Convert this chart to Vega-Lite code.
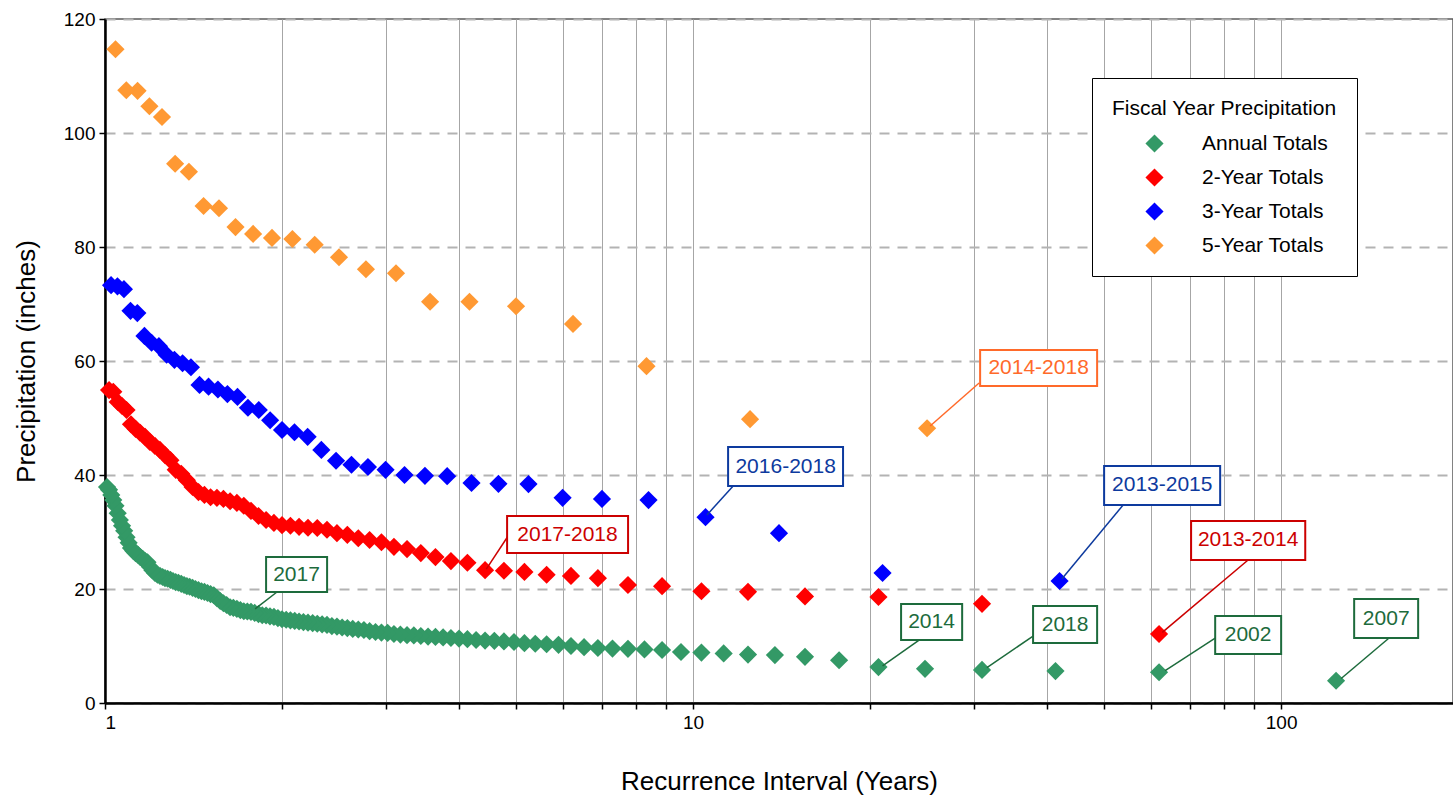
{
"$schema":"https://vega.github.io/schema/vega-lite/v6.json",
"width":1348,"height":684,
"autosize":{"type":"none"},
"padding":{"left":105,"top":19,"right":0,"bottom":94},
"config":{
 "font":"Liberation Sans",
 "view":{"stroke":"#595959","strokeWidth":1.5},
 "axis":{"labelFontSize":19,"labelColor":"#000","titleFontSize":26,"titleFontWeight":"normal","titleColor":"#000","domainColor":"#000","domainWidth":2.5,"tickColor":"#000","tickWidth":1.5,"tickSize":6,"labelPadding":4}
},
"datasets":{
"pts":[
{"series":"Annual Totals","interval":124,"precip":3.9},
{"series":"Annual Totals","interval":62,"precip":5.4},
{"series":"Annual Totals","interval":41.333,"precip":5.6},
{"series":"Annual Totals","interval":31,"precip":5.8},
{"series":"Annual Totals","interval":24.8,"precip":6.0},
{"series":"Annual Totals","interval":20.667,"precip":6.3},
{"series":"Annual Totals","interval":17.714,"precip":7.5},
{"series":"Annual Totals","interval":15.5,"precip":8.1},
{"series":"Annual Totals","interval":13.778,"precip":8.4},
{"series":"Annual Totals","interval":12.4,"precip":8.5},
{"series":"Annual Totals","interval":11.273,"precip":8.7},
{"series":"Annual Totals","interval":10.333,"precip":8.85},
{"series":"Annual Totals","interval":9.538,"precip":8.95},
{"series":"Annual Totals","interval":8.857,"precip":9.3},
{"series":"Annual Totals","interval":8.267,"precip":9.4},
{"series":"Annual Totals","interval":7.75,"precip":9.5},
{"series":"Annual Totals","interval":7.294,"precip":9.55},
{"series":"Annual Totals","interval":6.889,"precip":9.65},
{"series":"Annual Totals","interval":6.526,"precip":9.8},
{"series":"Annual Totals","interval":6.2,"precip":10.0},
{"series":"Annual Totals","interval":5.905,"precip":10.2},
{"series":"Annual Totals","interval":5.636,"precip":10.3},
{"series":"Annual Totals","interval":5.391,"precip":10.4},
{"series":"Annual Totals","interval":5.167,"precip":10.5},
{"series":"Annual Totals","interval":4.96,"precip":10.7},
{"series":"Annual Totals","interval":4.769,"precip":10.8},
{"series":"Annual Totals","interval":4.593,"precip":10.9},
{"series":"Annual Totals","interval":4.429,"precip":10.95},
{"series":"Annual Totals","interval":4.276,"precip":11.05},
{"series":"Annual Totals","interval":4.133,"precip":11.2},
{"series":"Annual Totals","interval":4,"precip":11.3},
{"series":"Annual Totals","interval":3.875,"precip":11.4},
{"series":"Annual Totals","interval":3.758,"precip":11.5},
{"series":"Annual Totals","interval":3.647,"precip":11.6},
{"series":"Annual Totals","interval":3.543,"precip":11.65},
{"series":"Annual Totals","interval":3.444,"precip":11.75},
{"series":"Annual Totals","interval":3.351,"precip":11.85},
{"series":"Annual Totals","interval":3.263,"precip":11.9},
{"series":"Annual Totals","interval":3.179,"precip":12.0},
{"series":"Annual Totals","interval":3.1,"precip":12.1},
{"series":"Annual Totals","interval":3.024,"precip":12.3},
{"series":"Annual Totals","interval":2.952,"precip":12.35},
{"series":"Annual Totals","interval":2.884,"precip":12.45},
{"series":"Annual Totals","interval":2.818,"precip":12.6},
{"series":"Annual Totals","interval":2.756,"precip":12.8},
{"series":"Annual Totals","interval":2.696,"precip":12.9},
{"series":"Annual Totals","interval":2.638,"precip":13.0},
{"series":"Annual Totals","interval":2.583,"precip":13.15},
{"series":"Annual Totals","interval":2.531,"precip":13.25},
{"series":"Annual Totals","interval":2.48,"precip":13.4},
{"series":"Annual Totals","interval":2.431,"precip":13.5},
{"series":"Annual Totals","interval":2.385,"precip":13.7},
{"series":"Annual Totals","interval":2.34,"precip":13.8},
{"series":"Annual Totals","interval":2.296,"precip":13.9},
{"series":"Annual Totals","interval":2.255,"precip":14.0},
{"series":"Annual Totals","interval":2.214,"precip":14.1},
{"series":"Annual Totals","interval":2.175,"precip":14.2},
{"series":"Annual Totals","interval":2.138,"precip":14.3},
{"series":"Annual Totals","interval":2.102,"precip":14.4},
{"series":"Annual Totals","interval":2.067,"precip":14.5},
{"series":"Annual Totals","interval":2.033,"precip":14.6},
{"series":"Annual Totals","interval":2,"precip":14.7},
{"series":"Annual Totals","interval":1.968,"precip":14.9},
{"series":"Annual Totals","interval":1.9375,"precip":15.1},
{"series":"Annual Totals","interval":1.908,"precip":15.2},
{"series":"Annual Totals","interval":1.879,"precip":15.35},
{"series":"Annual Totals","interval":1.851,"precip":15.4},
{"series":"Annual Totals","interval":1.824,"precip":15.6},
{"series":"Annual Totals","interval":1.797,"precip":15.8},
{"series":"Annual Totals","interval":1.771,"precip":16.0},
{"series":"Annual Totals","interval":1.746,"precip":16.05},
{"series":"Annual Totals","interval":1.722,"precip":16.1},
{"series":"Annual Totals","interval":1.699,"precip":16.3},
{"series":"Annual Totals","interval":1.676,"precip":16.5},
{"series":"Annual Totals","interval":1.653,"precip":16.7},
{"series":"Annual Totals","interval":1.632,"precip":16.8},
{"series":"Annual Totals","interval":1.61,"precip":17.2},
{"series":"Annual Totals","interval":1.59,"precip":17.5},
{"series":"Annual Totals","interval":1.57,"precip":17.9},
{"series":"Annual Totals","interval":1.55,"precip":18.4},
{"series":"Annual Totals","interval":1.531,"precip":18.9},
{"series":"Annual Totals","interval":1.512,"precip":19.1},
{"series":"Annual Totals","interval":1.494,"precip":19.3},
{"series":"Annual Totals","interval":1.476,"precip":19.5},
{"series":"Annual Totals","interval":1.459,"precip":19.6},
{"series":"Annual Totals","interval":1.442,"precip":19.8},
{"series":"Annual Totals","interval":1.425,"precip":20.0},
{"series":"Annual Totals","interval":1.409,"precip":20.2},
{"series":"Annual Totals","interval":1.393,"precip":20.4},
{"series":"Annual Totals","interval":1.378,"precip":20.5},
{"series":"Annual Totals","interval":1.363,"precip":20.7},
{"series":"Annual Totals","interval":1.348,"precip":20.9},
{"series":"Annual Totals","interval":1.333,"precip":21.1},
{"series":"Annual Totals","interval":1.319,"precip":21.2},
{"series":"Annual Totals","interval":1.305,"precip":21.4},
{"series":"Annual Totals","interval":1.292,"precip":21.6},
{"series":"Annual Totals","interval":1.278,"precip":21.8},
{"series":"Annual Totals","interval":1.265,"precip":21.9},
{"series":"Annual Totals","interval":1.253,"precip":22.1},
{"series":"Annual Totals","interval":1.24,"precip":22.3},
{"series":"Annual Totals","interval":1.228,"precip":22.5},
{"series":"Annual Totals","interval":1.216,"precip":22.8},
{"series":"Annual Totals","interval":1.204,"precip":23.3},
{"series":"Annual Totals","interval":1.192,"precip":23.9},
{"series":"Annual Totals","interval":1.181,"precip":24.7},
{"series":"Annual Totals","interval":1.17,"precip":24.9},
{"series":"Annual Totals","interval":1.159,"precip":25.3},
{"series":"Annual Totals","interval":1.148,"precip":25.6},
{"series":"Annual Totals","interval":1.138,"precip":26.0},
{"series":"Annual Totals","interval":1.127,"precip":26.3},
{"series":"Annual Totals","interval":1.117,"precip":26.7},
{"series":"Annual Totals","interval":1.107,"precip":27.2},
{"series":"Annual Totals","interval":1.097,"precip":28.1},
{"series":"Annual Totals","interval":1.088,"precip":29.1},
{"series":"Annual Totals","interval":1.078,"precip":30.2},
{"series":"Annual Totals","interval":1.069,"precip":31.1},
{"series":"Annual Totals","interval":1.06,"precip":32.1},
{"series":"Annual Totals","interval":1.051,"precip":33.3},
{"series":"Annual Totals","interval":1.042,"precip":34.6},
{"series":"Annual Totals","interval":1.033,"precip":35.6},
{"series":"Annual Totals","interval":1.025,"precip":36.5},
{"series":"Annual Totals","interval":1.016,"precip":37.4},
{"series":"Annual Totals","interval":1.008,"precip":37.9},
{"series":"2-Year Totals","interval":62,"precip":12.1},
{"series":"2-Year Totals","interval":31,"precip":17.4},
{"series":"2-Year Totals","interval":20.667,"precip":18.6},
{"series":"2-Year Totals","interval":15.5,"precip":18.7},
{"series":"2-Year Totals","interval":12.4,"precip":19.5},
{"series":"2-Year Totals","interval":10.333,"precip":19.6},
{"series":"2-Year Totals","interval":8.857,"precip":20.5},
{"series":"2-Year Totals","interval":7.75,"precip":20.7},
{"series":"2-Year Totals","interval":6.889,"precip":21.9},
{"series":"2-Year Totals","interval":6.2,"precip":22.3},
{"series":"2-Year Totals","interval":5.636,"precip":22.5},
{"series":"2-Year Totals","interval":5.167,"precip":23.0},
{"series":"2-Year Totals","interval":4.769,"precip":23.2},
{"series":"2-Year Totals","interval":4.429,"precip":23.3},
{"series":"2-Year Totals","interval":4.133,"precip":24.6},
{"series":"2-Year Totals","interval":3.875,"precip":24.9},
{"series":"2-Year Totals","interval":3.647,"precip":25.6},
{"series":"2-Year Totals","interval":3.444,"precip":26.3},
{"series":"2-Year Totals","interval":3.263,"precip":27.0},
{"series":"2-Year Totals","interval":3.1,"precip":27.4},
{"series":"2-Year Totals","interval":2.952,"precip":28.2},
{"series":"2-Year Totals","interval":2.818,"precip":28.6},
{"series":"2-Year Totals","interval":2.696,"precip":28.9},
{"series":"2-Year Totals","interval":2.583,"precip":29.5},
{"series":"2-Year Totals","interval":2.48,"precip":29.8},
{"series":"2-Year Totals","interval":2.385,"precip":30.4},
{"series":"2-Year Totals","interval":2.296,"precip":30.7},
{"series":"2-Year Totals","interval":2.214,"precip":30.75},
{"series":"2-Year Totals","interval":2.138,"precip":30.9},
{"series":"2-Year Totals","interval":2.067,"precip":31.1},
{"series":"2-Year Totals","interval":2,"precip":31.2},
{"series":"2-Year Totals","interval":1.9375,"precip":31.6},
{"series":"2-Year Totals","interval":1.879,"precip":32.1},
{"series":"2-Year Totals","interval":1.824,"precip":32.8},
{"series":"2-Year Totals","interval":1.771,"precip":33.7},
{"series":"2-Year Totals","interval":1.722,"precip":34.6},
{"series":"2-Year Totals","interval":1.676,"precip":35.1},
{"series":"2-Year Totals","interval":1.632,"precip":35.4},
{"series":"2-Year Totals","interval":1.59,"precip":35.8},
{"series":"2-Year Totals","interval":1.55,"precip":36.0},
{"series":"2-Year Totals","interval":1.512,"precip":36.1},
{"series":"2-Year Totals","interval":1.476,"precip":36.5},
{"series":"2-Year Totals","interval":1.442,"precip":37.0},
{"series":"2-Year Totals","interval":1.409,"precip":37.9},
{"series":"2-Year Totals","interval":1.378,"precip":39.1},
{"series":"2-Year Totals","interval":1.348,"precip":40.2},
{"series":"2-Year Totals","interval":1.319,"precip":40.9},
{"series":"2-Year Totals","interval":1.292,"precip":42.6},
{"series":"2-Year Totals","interval":1.265,"precip":43.5},
{"series":"2-Year Totals","interval":1.24,"precip":44.4},
{"series":"2-Year Totals","interval":1.216,"precip":45.1},
{"series":"2-Year Totals","interval":1.192,"precip":45.8},
{"series":"2-Year Totals","interval":1.17,"precip":46.7},
{"series":"2-Year Totals","interval":1.148,"precip":47.4},
{"series":"2-Year Totals","interval":1.127,"precip":48.1},
{"series":"2-Year Totals","interval":1.107,"precip":48.9},
{"series":"2-Year Totals","interval":1.088,"precip":51.4},
{"series":"2-Year Totals","interval":1.069,"precip":52.1},
{"series":"2-Year Totals","interval":1.051,"precip":52.8},
{"series":"2-Year Totals","interval":1.033,"precip":54.6},
{"series":"2-Year Totals","interval":1.016,"precip":54.9},
{"series":"3-Year Totals","interval":42,"precip":21.4},
{"series":"3-Year Totals","interval":21,"precip":22.8},
{"series":"3-Year Totals","interval":14,"precip":29.8},
{"series":"3-Year Totals","interval":10.5,"precip":32.6},
{"series":"3-Year Totals","interval":8.4,"precip":35.6},
{"series":"3-Year Totals","interval":7,"precip":35.8},
{"series":"3-Year Totals","interval":6,"precip":36.0},
{"series":"3-Year Totals","interval":5.25,"precip":38.4},
{"series":"3-Year Totals","interval":4.667,"precip":38.45},
{"series":"3-Year Totals","interval":4.2,"precip":38.6},
{"series":"3-Year Totals","interval":3.818,"precip":39.8},
{"series":"3-Year Totals","interval":3.5,"precip":39.85},
{"series":"3-Year Totals","interval":3.231,"precip":40.0},
{"series":"3-Year Totals","interval":3,"precip":40.9},
{"series":"3-Year Totals","interval":2.8,"precip":41.4},
{"series":"3-Year Totals","interval":2.625,"precip":41.8},
{"series":"3-Year Totals","interval":2.471,"precip":42.5},
{"series":"3-Year Totals","interval":2.333,"precip":44.4},
{"series":"3-Year Totals","interval":2.211,"precip":46.7},
{"series":"3-Year Totals","interval":2.1,"precip":47.5},
{"series":"3-Year Totals","interval":2,"precip":47.9},
{"series":"3-Year Totals","interval":1.909,"precip":49.6},
{"series":"3-Year Totals","interval":1.826,"precip":51.4},
{"series":"3-Year Totals","interval":1.75,"precip":51.8},
{"series":"3-Year Totals","interval":1.68,"precip":53.7},
{"series":"3-Year Totals","interval":1.615,"precip":54.2},
{"series":"3-Year Totals","interval":1.556,"precip":55.0},
{"series":"3-Year Totals","interval":1.5,"precip":55.5},
{"series":"3-Year Totals","interval":1.448,"precip":55.8},
{"series":"3-Year Totals","interval":1.4,"precip":58.9},
{"series":"3-Year Totals","interval":1.355,"precip":59.6},
{"series":"3-Year Totals","interval":1.3125,"precip":60.2},
{"series":"3-Year Totals","interval":1.273,"precip":61.1},
{"series":"3-Year Totals","interval":1.235,"precip":62.6},
{"series":"3-Year Totals","interval":1.2,"precip":63.2},
{"series":"3-Year Totals","interval":1.167,"precip":64.4},
{"series":"3-Year Totals","interval":1.135,"precip":68.4},
{"series":"3-Year Totals","interval":1.105,"precip":68.8},
{"series":"3-Year Totals","interval":1.077,"precip":72.6},
{"series":"3-Year Totals","interval":1.05,"precip":73.1},
{"series":"3-Year Totals","interval":1.024,"precip":73.3},
{"series":"5-Year Totals","interval":25,"precip":48.2},
{"series":"5-Year Totals","interval":12.5,"precip":49.8},
{"series":"5-Year Totals","interval":8.333,"precip":59.1},
{"series":"5-Year Totals","interval":6.25,"precip":66.5},
{"series":"5-Year Totals","interval":5,"precip":69.6},
{"series":"5-Year Totals","interval":4.167,"precip":70.4},
{"series":"5-Year Totals","interval":3.571,"precip":70.4},
{"series":"5-Year Totals","interval":3.125,"precip":75.4},
{"series":"5-Year Totals","interval":2.778,"precip":76.1},
{"series":"5-Year Totals","interval":2.5,"precip":78.2},
{"series":"5-Year Totals","interval":2.273,"precip":80.4},
{"series":"5-Year Totals","interval":2.083,"precip":81.4},
{"series":"5-Year Totals","interval":1.923,"precip":81.6},
{"series":"5-Year Totals","interval":1.786,"precip":82.3},
{"series":"5-Year Totals","interval":1.667,"precip":83.5},
{"series":"5-Year Totals","interval":1.5625,"precip":86.8},
{"series":"5-Year Totals","interval":1.471,"precip":87.2},
{"series":"5-Year Totals","interval":1.389,"precip":93.2},
{"series":"5-Year Totals","interval":1.316,"precip":94.6},
{"series":"5-Year Totals","interval":1.25,"precip":102.8},
{"series":"5-Year Totals","interval":1.19,"precip":104.7},
{"series":"5-Year Totals","interval":1.136,"precip":107.4},
{"series":"5-Year Totals","interval":1.087,"precip":107.5},
{"series":"5-Year Totals","interval":1.042,"precip":114.7}
],
"notes":[
{"label":"2017","series":"Annual Totals","x1":1.879,"x2":2.386,"y1":19.47,"y2":25.61,"tx":2.117,"ty":22.54,"lx1":1.961,"ly1":19.47,"lx2":1.80,"ly2":16.5},
{"label":"2017-2018","series":"2-Year Totals","x1":4.828,"x2":7.753,"y1":26.32,"y2":32.81,"tx":6.116,"ty":29.56,"lx1":4.847,"ly1":29.3,"lx2":4.45,"ly2":23.5},
{"label":"2016-2018","series":"3-Year Totals","x1":11.47,"x2":17.99,"y1":38.07,"y2":44.91,"tx":14.37,"ty":41.49,"lx1":11.70,"ly1":38.07,"lx2":10.56,"ly2":33.0},
{"label":"2014","series":"Annual Totals","x1":22.58,"x2":28.68,"y1":11.05,"y2":17.37,"tx":25.44,"ty":14.21,"lx1":24.23,"ly1":11.05,"lx2":21.0,"ly2":6.5},
{"label":"2014-2018","series":"5-Year Totals","x1":30.77,"x2":48.65,"y1":55.61,"y2":61.93,"tx":38.69,"ty":58.77,"lx1":30.65,"ly1":56.14,"lx2":25.3,"ly2":48.6},
{"label":"2013-2015","series":"3-Year Totals","x1":50.0,"x2":78.76,"y1":34.74,"y2":41.58,"tx":62.78,"ty":38.16,"lx1":53.87,"ly1":34.74,"lx2":42.4,"ly2":21.8},
{"label":"2013-2014","series":"2-Year Totals","x1":70.29,"x2":109.9,"y1":25.09,"y2":31.93,"tx":87.87,"ty":28.51,"lx1":87.87,"ly1":25.09,"lx2":62.8,"ly2":12.4},
{"label":"2018","series":"Annual Totals","x1":37.86,"x2":48.65,"y1":10.53,"y2":17.02,"tx":42.92,"ty":13.77,"lx1":37.86,"ly1":11.75,"lx2":31.6,"ly2":6.2},
{"label":"2002","series":"Annual Totals","x1":77.24,"x2":100,"y1":8.6,"y2":15.26,"tx":87.87,"ty":11.93,"lx1":77.24,"ly1":11.4,"lx2":63.5,"ly2":5.7},
{"label":"2007","series":"Annual Totals","x1":133.1,"x2":171.0,"y1":11.40,"y2":18.25,"tx":150.9,"ty":14.82,"lx1":152.6,"ly1":11.40,"lx2":126.5,"ly2":4.3}
]
},
"layer":[
{"data":{"name":"pts"},
 "mark":{"type":"point","shape":"diamond","filled":true,"size":330,"opacity":1,"strokeWidth":0},
 "encoding":{
  "x":{"field":"interval","type":"quantitative","title":"Recurrence Interval (Years)","scale":{"type":"log","domain":[1,196],"nice":false},
       "axis":{"title":"Recurrence Interval (Years)","values":[1,2,3,4,5,6,7,8,9,10,20,30,40,50,60,70,80,90,100],
               "labelExpr":"(datum.value==1||datum.value==10||datum.value==100) ? datum.label : ''",
               "format":"d","grid":true,"gridColor":"#a6a6a6","gridWidth":1,"titlePadding":36}},
  "y":{"field":"precip","type":"quantitative","title":"Precipitation (inches)","scale":{"domain":[0,120],"nice":false},
       "axis":{"title":"Precipitation (inches)","values":[0,20,40,60,80,100,120],"grid":true,"gridColor":"#b3b3b3","gridWidth":2,"gridDash":[10,8],"titlePadding":24}},
  "color":{"field":"series","type":"nominal",
       "scale":{"domain":["Annual Totals","2-Year Totals","3-Year Totals","5-Year Totals"],"range":["#339966","#FF0000","#0000FF","#FF9933"]},
       "legend":{"title":"Fiscal Year Precipitation","orient":"none","legendX":987,"legendY":59,"padding":20,"strokeColor":"#000","fillColor":"#fff",
                 "titleFontSize":21,"titleFontWeight":"normal","titleColor":"#000","titleAnchor":"middle","titlePadding":14,"titleLimit":500,
                 "labelFontSize":21,"labelColor":"#000","labelLimit":400,"labelOffset":37,"symbolOffset":24,"symbolSize":330,"symbolType":"diamond","symbolOpacity":1,"symbolStrokeWidth":0,"rowPadding":12}}
 }},
{"data":{"name":"notes"},
 "mark":{"type":"rule","strokeWidth":1.5},
 "encoding":{
  "x":{"field":"lx1","type":"quantitative","title":"Recurrence Interval (Years)","scale":{"type":"log","domain":[1,196],"nice":false}},
  "y":{"field":"ly1","type":"quantitative","title":"Precipitation (inches)","scale":{"domain":[0,120],"nice":false}},
  "x2":{"field":"lx2"},"y2":{"field":"ly2"},
  "stroke":{"field":"series","type":"nominal","scale":{"domain":["Annual Totals","2-Year Totals","3-Year Totals","5-Year Totals"],"range":["#1D6B3C","#CC0000","#0D3A9E","#FF6A2A"]},"legend":null}
 }},
{"data":{"name":"notes"},
 "mark":{"type":"rect","fill":"#ffffff","strokeWidth":2},
 "encoding":{
  "x":{"field":"x1","type":"quantitative","title":"Recurrence Interval (Years)","scale":{"type":"log","domain":[1,196],"nice":false}},
  "x2":{"field":"x2"},
  "y":{"field":"y1","type":"quantitative","title":"Precipitation (inches)","scale":{"domain":[0,120],"nice":false}},
  "y2":{"field":"y2"},
  "stroke":{"field":"series","type":"nominal","scale":{"domain":["Annual Totals","2-Year Totals","3-Year Totals","5-Year Totals"],"range":["#1D6B3C","#CC0000","#0D3A9E","#FF6A2A"]},"legend":null}
 }},
{"data":{"name":"notes"},
 "mark":{"type":"text","fontSize":21,"align":"center","baseline":"middle"},
 "encoding":{
  "x":{"field":"tx","type":"quantitative","title":"Recurrence Interval (Years)","scale":{"type":"log","domain":[1,196],"nice":false}},
  "y":{"field":"ty","type":"quantitative","title":"Precipitation (inches)","scale":{"domain":[0,120],"nice":false}},
  "text":{"field":"label","type":"nominal"},
  "fill":{"field":"series","type":"nominal","scale":{"domain":["Annual Totals","2-Year Totals","3-Year Totals","5-Year Totals"],"range":["#1D6B3C","#CC0000","#0D3A9E","#FF6A2A"]},"legend":null}
 }}
]
}
